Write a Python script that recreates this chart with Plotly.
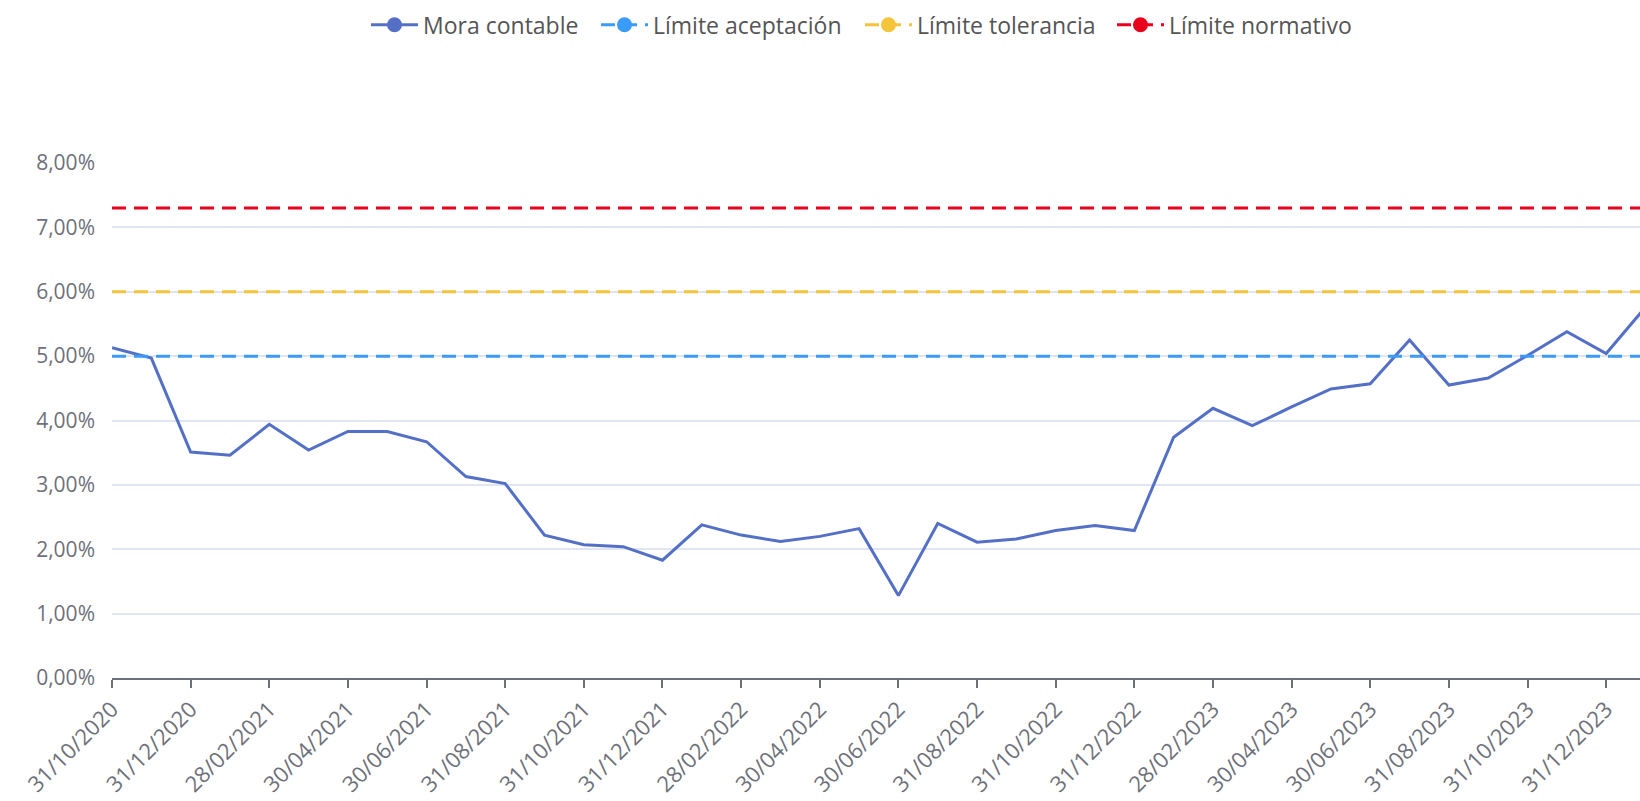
import plotly.graph_objects as go

fechas = [
    "31/10/2020", "30/11/2020", "31/12/2020", "31/01/2021", "28/02/2021", "31/03/2021",
    "30/04/2021", "31/05/2021", "30/06/2021", "31/07/2021", "31/08/2021", "30/09/2021",
    "31/10/2021", "30/11/2021", "31/12/2021", "31/01/2022", "28/02/2022", "31/03/2022",
    "30/04/2022", "31/05/2022", "30/06/2022", "31/07/2022", "31/08/2022", "30/09/2022",
    "31/10/2022", "30/11/2022", "31/12/2022", "31/01/2023", "28/02/2023", "31/03/2023",
    "30/04/2023", "31/05/2023", "30/06/2023", "31/07/2023", "31/08/2023", "30/09/2023",
    "31/10/2023", "30/11/2023", "31/12/2023", "31/01/2024",
]
mora_contable = [
    5.13, 4.97, 3.51, 3.46, 3.94, 3.54, 3.83, 3.83, 3.67, 3.13,
    3.02, 2.22, 2.07, 2.04, 1.83, 2.38, 2.22, 2.12, 2.20, 2.32,
    1.28, 2.40, 2.11, 2.16, 2.29, 2.37, 2.29, 3.74, 4.19, 3.92,
    4.21, 4.49, 4.57, 5.25, 4.55, 4.66, 5.01, 5.38, 5.04, 5.76,
]
limite_aceptacion = 5.00
limite_tolerancia = 6.00
limite_normativo = 7.30
y_ticks = [0, 1, 2, 3, 4, 5, 6, 7, 8]
y_tick_text = ["0,00%", "1,00%", "2,00%", "3,00%", "4,00%", "5,00%", "6,00%", "7,00%", "8,00%"]
x_ticks = fechas[0:39:2]

FONT = "Open Sans"
GRAY = "#6E7079"

series = [
    ("Mora contable", mora_contable, "#5470C6", "solid"),
    ("Límite aceptación", [limite_aceptacion] * len(fechas), "#3A9BFA", "14px,8px"),
    ("Límite tolerancia", [limite_tolerancia] * len(fechas), "#F4C43A", "14px,8px"),
    ("Límite normativo", [limite_normativo] * len(fechas), "#E8001C", "14px,8px"),
]
legend_ids = ["legend", "legend2", "legend3", "legend4"]
legend_x = [366, 596, 860, 1112]

fig = go.Figure()
for name, vals, color, dash in series:
    fig.add_trace(go.Scatter(
        x=fechas, y=vals, mode="lines", name=name, showlegend=False,
        line=dict(color=color, width=3, dash=dash), hoverinfo="x+y+name",
    ))
for (name, vals, color, dash), lid in zip(series, legend_ids):
    fig.add_trace(go.Scatter(
        x=[None], y=[None], mode="lines+markers", name=name, legend=lid,
        line=dict(color=color, width=3, dash=dash),
        marker=dict(color=color, size=15, symbol="circle"),
    ))

legend_common = dict(
    orientation="h", xref="container", yref="container",
    xanchor="left", y=0.969, yanchor="middle",
    font=dict(family=FONT, size=23, color="#555"),
    itemwidth=47, bgcolor="rgba(0,0,0,0)",
)
legends = {lid: dict(legend_common, x=lx / 1640) for lid, lx in zip(legend_ids, legend_x)}

fig.update_layout(
    width=1640, height=801,
    margin=dict(l=111.5, r=0, t=162.7, b=122.7),
    paper_bgcolor="white", plot_bgcolor="white",
    font=dict(family=FONT, color=GRAY, size=21),
    xaxis=dict(
        type="category", categoryorder="array", categoryarray=fechas,
        range=[0, 38.86],
        tickmode="array", tickvals=x_ticks, ticktext=x_ticks,
        tickangle=-45, ticks="outside", ticklen=8, tickwidth=1.5, tickcolor=GRAY,
        showline=True, linecolor=GRAY, linewidth=1.5,
        showgrid=False, zeroline=False,
        tickfont=dict(family=FONT, size=22, color=GRAY),
    ),
    yaxis=dict(
        range=[0, 8], tickmode="array", tickvals=y_ticks, ticktext=y_tick_text,
        showgrid=True, gridcolor="#E0E6F1", gridwidth=1.5,
        zeroline=False, showline=False, ticks="",
        ticklabelstandoff=16,
        tickfont=dict(family=FONT, size=21, color=GRAY),
    ),
    **legends,
)

fig.write_html("out.html")
